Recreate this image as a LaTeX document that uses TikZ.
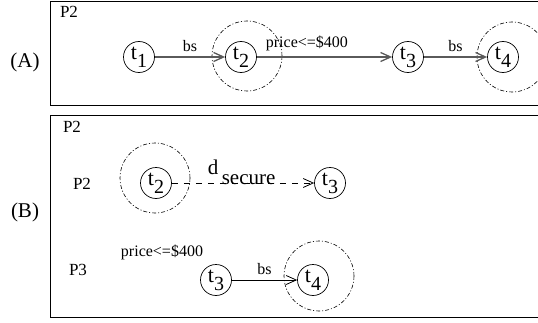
\documentclass[tikz,border=0pt]{standalone}
\usepackage{fontspec}
\setmainfont{Liberation Serif}
\usepackage{tikz}
\usetikzlibrary{arrows.meta, positioning}
\definecolor{trait}{HTML}{000000}
\definecolor{gris}{HTML}{5A5A5A}
\newcommand{\tind}[2]{#1\raisebox{-0.8ex}{\fontsize{20}{20}\selectfont #2}}
\tikzset{
  cadre/.style={draw=trait, line width=0.9pt},
  etat/.style={circle, draw=trait, line width=0.7pt, minimum size=31pt,
    inner sep=0pt, font=\fontsize{22}{22}\selectfont},
  zone/.style={circle, draw=trait, line width=0.6pt, minimum size=70pt,
    inner sep=0pt, dash pattern=on 4pt off 2pt on 1pt off 2pt},
  fleche/.style={-{Straight Barb[length=10pt, width=9pt]}, line width=1.3pt, color=gris},
  flechefine/.style={fleche, line width=0.8pt, color=trait},
  etiquette/.style={font=\fontsize{16}{16}\selectfont, inner sep=1pt, text=trait},
  nom/.style={font=\fontsize{17}{17}\selectfont},
  partie/.style={font=\fontsize{21}{21}\selectfont}
}
\begin{document}
\begin{tikzpicture}[x=1pt, y=1pt]
    \useasboundingbox (0,0) rectangle (538,322);
    \draw[cadre] (50,217) rectangle (560,321);
    \draw[cadre] (50,5) rectangle (560,207);

    % (A)
    \node[partie] (A) at (25,260) {(A)};
    \node[nom] (pa) at (69,310) {P2};
    \node[etat] (a1) at (139,265) {\tind{t}{1}};
    \node[etat] (a2) at (241,265) {\tind{t}{2}};
    \node[etat] (a3) at (408,265) {\tind{t}{3}};
    \node[etat] (a4) at (503,265) {\tind{t}{4}};
    \node[zone] (za2) at (247,266) {};
    \node[zone] (za4) at (512,265) {};

    \draw[fleche] (a1) -- node[etiquette, above=4pt]{bs} (a2);
    \draw[fleche] (a2) -- node[etiquette, above=4pt, pos=0.37]{price<=\$400} (a3);
    \draw[fleche] (a3) -- node[etiquette, above=4pt]{bs} (a4);

    % (B)
    \node[partie] (B) at (25,110) {(B)};
    \node[nom] (pb) at (72,195) {P2};
    \node[nom] (p2) at (82,138) {P2};
    \node[zone] (zb2) at (155,144) {};
    \node[etat] (b2) at (156,139) {\tind{t}{2}};
    \node[etat] (b3) at (330,139) {\tind{t}{3}};
    \draw[flechefine, dash pattern=on 6pt off 6pt] (b2) -- node[anchor=base,
      inner sep=0.5pt, yshift=-1pt, font=\fontsize{21}{21}\selectfont, pos=0.49]{\raisebox{10pt}{d}\,secure} (b3);

    \node[nom] (p3) at (78,52) {P3};
    \node[etiquette] (prix) at (162,70) {price<=\$400};
    \node[etat] (c3) at (216,42) {\tind{t}{3}};
    \node[etat] (c4) at (313,42) {\tind{t}{4}};
    \node[zone] (zc4) at (319,46) {};
    \draw[flechefine] (c3) -- node[etiquette, above=4pt]{bs} (c4);
  \end{tikzpicture}
\end{document}
